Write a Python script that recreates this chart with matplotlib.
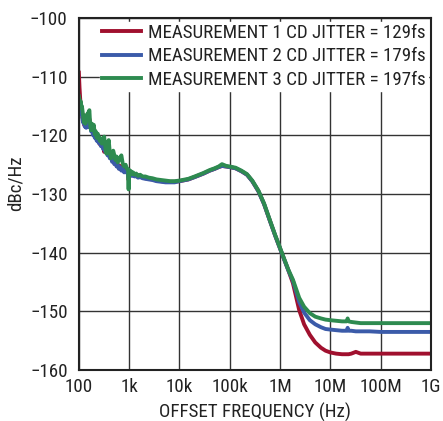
import matplotlib
matplotlib.use("Agg")
import matplotlib.pyplot as plt
from matplotlib import font_manager as fm
from matplotlib.font_manager import FontProperties

# ---- pick a condensed sans font if available, else Liberation Sans ----
def _is_condensed(f):
    st = f.stretch
    if isinstance(st, str):
        return st in ('condensed', 'semi-condensed', 'extra-condensed') or 'Narrow' in f.name or 'Condensed' in f.name
    return st < 500 or 'Narrow' in f.name or 'Condensed' in f.name

_cands = [f for f in fm.fontManager.ttflist
          if _is_condensed(f) and f.style == 'normal' and str(f.weight) in ('400', 'normal', 'regular')]
_order = ['Liberation Sans Narrow', 'Arial Narrow', 'Roboto Condensed', 'Noto Sans', 'DejaVu Sans']
_cands.sort(key=lambda f: _order.index(f.name) if f.name in _order else 99)
if _cands:
    FONT_PATH = _cands[0].fname
    BASE = 13.7
else:
    FONT_PATH = fm.findfont(FontProperties(family='Liberation Sans'))
    BASE = 12.0

def fp(size=None):
    return FontProperties(fname=FONT_PATH, size=size or BASE)

# ---------------- data ----------------
freq_low_hz = [100, 103, 106, 109, 112, 115, 119, 123, 127, 131,
               135, 140, 145, 150, 156, 162, 168, 175, 182, 190,
               198, 207, 216, 226, 237, 248, 260, 273, 287, 302,
               318, 335, 353, 372, 392, 413, 435, 458, 482, 508,
               535, 563, 593, 625, 660, 700, 745, 795, 850, 905,
               953, 975, 990, 1010, 1040, 1080, 1130, 1200, 1280, 1380,
               1500, 1650, 1850, 2100, 2450, 2900, 3500, 4300, 5300, 6500,
               8000]

freq_high_hz = [1.0e4, 1.5e4, 2.0e4, 3.0e4, 4.0e4, 5.0e4, 6.0e4, 7.0e4, 8.5e4, 1.0e5,
                1.3e5, 1.7e5, 2.2e5, 2.8e5, 3.7e5, 4.8e5, 6.3e5, 8.0e5, 1.0e6, 1.2e6,
                1.46e6, 1.8e6, 2.4e6, 3.0e6, 3.9e6, 5.0e6, 6.5e6, 8.0e6, 1.0e7, 1.3e7,
                1.7e7, 2.1e7, 2.2e7, 2.3e7, 2.6e7, 3.2e7, 4.0e7, 6.0e7, 1.0e8, 2.0e8,
                5.0e8, 1.0e9]

meas1_low = [-109.3, -111.8, -113.6, -115.0, -115.9, -116.0, -117.1, -116.5, -118.2, -117.6,
             -117.4, -118.3, -117.0, -116.8, -117.9, -117.2, -118.4, -118.2, -119.3, -118.8,
             -120.0, -119.2, -120.5, -119.8, -120.9, -120.3, -121.5, -120.8, -121.9, -121.3,
             -122.8, -122.0, -122.6, -123.1, -122.5, -123.8, -123.3, -124.0, -124.1, -124.8,
             -124.3, -125.2, -124.9, -125.6, -125.2, -125.9, -125.5, -126.2, -125.8, -126.3,
             -126.1, -127.6, -126.4, -126.2, -126.6, -126.4, -126.8, -126.6, -126.9, -126.8,
             -127.1, -127.0, -127.2, -127.3, -127.4, -127.5, -127.7, -127.8, -127.9, -127.9,
             -127.9]
meas1_high = [-127.8, -127.5, -127.1, -126.5, -126.0, -125.7, -125.4, -125.2, -125.3, -125.4,
              -125.6, -126.1, -126.7, -127.8, -129.5, -131.7, -134.6, -137.1, -139.3, -141.1,
              -143.0, -145.2, -149.8, -152.2, -154.0, -155.3, -156.2, -156.7, -157.0, -157.2,
              -157.3, -157.3, -157.3, -157.3, -157.2, -156.9, -157.2, -157.2, -157.2, -157.2,
              -157.2, -157.2]

meas2_low = [-114.6, -115.2, -114.9, -115.8, -116.4, -116.0, -117.4, -117.9, -117.2, -118.5,
             -117.8, -118.7, -117.6, -118.1, -117.3, -118.6, -117.9, -119.3, -118.7, -119.9,
             -119.4, -120.4, -119.6, -120.9, -120.1, -121.3, -120.7, -121.8, -121.2, -122.3,
             -121.7, -122.8, -122.2, -123.4, -122.9, -123.9, -123.5, -124.5, -123.9, -124.9,
             -124.6, -125.3, -125.0, -125.7, -125.4, -126.0, -125.7, -126.3, -126.0, -126.4,
             -126.2, -127.2, -126.5, -126.3, -126.7, -126.5, -126.9, -126.7, -127.0, -126.9,
             -127.2, -127.1, -127.3, -127.4, -127.5, -127.6, -127.8, -127.9, -128.0, -128.0,
             -128.0]
meas2_high = [-127.8, -127.5, -127.1, -126.5, -126.0, -125.7, -125.4, -125.2, -125.3, -125.4,
              -125.6, -126.1, -126.7, -127.8, -129.5, -131.7, -134.6, -137.1, -139.3, -141.1,
              -143.0, -144.8, -148.4, -150.2, -151.5, -152.2, -152.7, -153.0, -153.1, -153.2,
              -153.3, -153.3, -152.8, -153.3, -153.3, -153.4, -153.4, -153.4, -153.5, -153.5,
              -153.5, -153.5]

meas3_low = [-113.3, -113.9, -114.8, -114.2, -115.3, -115.0, -116.0, -117.0, -117.8, -116.9,
             -118.0, -117.4, -116.4, -117.0, -116.0, -115.7, -118.3, -119.1, -118.0, -119.0,
             -118.2, -119.8, -119.3, -120.4, -119.7, -120.2, -120.9, -120.5, -121.4, -120.9,
             -120.2, -122.0, -123.1, -121.7, -120.8, -123.0, -123.9, -123.0, -122.6, -123.4,
             -124.2, -123.6, -124.6, -124.2, -123.8, -123.4, -124.8, -125.3, -125.0, -125.7,
             -125.8, -129.2, -126.3, -125.9, -126.4, -126.1, -126.6, -126.3, -126.7, -126.5,
             -126.9, -126.7, -127.0, -127.0, -127.2, -127.3, -127.5, -127.6, -127.7, -127.8,
             -127.8]
meas3_high = [-127.7, -127.4, -127.0, -126.4, -125.9, -125.6, -125.3, -124.9, -125.2, -125.3,
              -125.5, -126.0, -126.6, -127.7, -129.4, -131.6, -134.5, -137.0, -139.2, -141.0,
              -142.9, -144.6, -147.7, -149.2, -150.3, -150.9, -151.2, -151.4, -151.5, -151.6,
              -151.7, -151.7, -151.2, -151.7, -151.8, -151.9, -152.0, -152.0, -152.0, -152.0,
              -152.0, -152.0]

series_labels = ["MEASUREMENT 1 CD JITTER = 129fs",
                 "MEASUREMENT 2 CD JITTER = 179fs",
                 "MEASUREMENT 3 CD JITTER = 197fs"]
series_colors = ['#A0102E', '#3B5BA9', '#2E8B50']

x_ticks = [1e2, 1e3, 1e4, 1e5, 1e6, 1e7, 1e8, 1e9]
x_tick_labels = ["100", "1k", "10k", "100k", "1M", "10M", "100M", "1G"]
y_ticks = [-160, -150, -140, -130, -120, -110, -100]
y_tick_labels = ["\u2212160", "\u2212150", "\u2212140", "\u2212130", "\u2212120", "\u2212110", "\u2212100"]

TXT = '#222222'

freq_hz = freq_low_hz + freq_high_hz
series = [meas1_low + meas1_high, meas2_low + meas2_high, meas3_low + meas3_high]

fig = plt.figure(figsize=(4.43, 4.21), dpi=100)
ax = fig.add_axes([0.178, 0.121, 0.795, 0.836])

for y, lab, col in zip(series, series_labels, series_colors):
    ax.plot(freq_hz, y, color=col, lw=2.8, label=lab, solid_joinstyle='round')

ax.set_xscale('log')
ax.set_xlim(1e2, 1e9)
ax.set_ylim(-160, -100)
ax.set_xticks(x_ticks)
ax.set_xticklabels(x_tick_labels, fontproperties=fp())
ax.minorticks_off()
ax.set_yticks(y_ticks)
ax.set_yticklabels(y_tick_labels, fontproperties=fp())
ax.tick_params(length=0, colors=TXT)
ax.tick_params(axis='x', pad=5.5)
ax.tick_params(axis='y', pad=8)
ax.grid(True, color='#333333', lw=1.0)
for s in ax.spines.values():
    s.set_linewidth(1.5)
    s.set_color(TXT)

ax.set_xlabel("OFFSET FREQUENCY (Hz)", fontproperties=fp(), color=TXT, labelpad=5)
ax.set_ylabel("dBc/Hz", fontproperties=fp(), color=TXT, labelpad=4)
ax.yaxis.label.set_y(0.53)

leg = ax.legend(loc='upper right', bbox_to_anchor=(0.99, 0.99), prop=fp(), frameon=True,
                fancybox=False, framealpha=1, edgecolor='white', facecolor='white',
                handlelength=2.05, handletextpad=0.35, labelspacing=0.3, borderpad=0.1,
                borderaxespad=0)
for t in leg.get_texts():
    t.set_color(TXT)

fig.savefig("out.png", dpi=100)
